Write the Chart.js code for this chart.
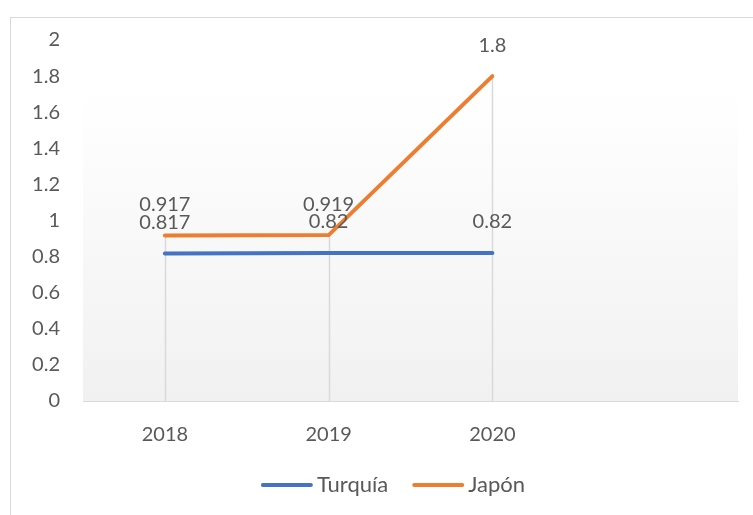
<!DOCTYPE html>
<html>
<head>
<meta charset="utf-8">
<script src="https://cdn.jsdelivr.net/npm/chart.js@4"></script>
<style>
  html, body { margin: 0; padding: 0; background: #fff; }
  #wrap { width: 753px; height: 515px; position: relative; }
</style>
</head>
<body>
<div id="wrap"><canvas id="chart"></canvas></div>
<script>
const years = ['2018', '2019', '2020', ''];
const turquia = [0.817, 0.82, 0.82];
const japon = [0.917, 0.919, 1.8];
const yTicks = [0, 0.2, 0.4, 0.6, 0.8, 1, 1.2, 1.4, 1.6, 1.8, 2];

const FONT = 'Lato, "Open Sans", sans-serif';
const TEXT = '#595959';

// marco exterior + fondo degradado del área de trazado
const backdrop = {
  id: 'backdrop',
  beforeDraw(chart) {
    const { ctx, chartArea } = chart;
    ctx.save();
    ctx.strokeStyle = '#d9d9d9';
    ctx.lineWidth = 1;
    ctx.strokeRect(10.5, 17.5, 900, 700);
    const top = chartArea.top + 48;
    const g = ctx.createLinearGradient(0, top, 0, chartArea.bottom);
    g.addColorStop(0, '#ffffff');
    g.addColorStop(1, '#f1f1f1');
    ctx.fillStyle = g;
    ctx.fillRect(chartArea.left, top, chartArea.right - chartArea.left, chartArea.bottom - top);
    ctx.restore();
  }
};

// líneas de caída desde el punto más alto de cada categoría
const dropLines = {
  id: 'dropLines',
  beforeDatasetsDraw(chart) {
    const { ctx, chartArea } = chart;
    const metas = chart.data.datasets.map((d, i) => chart.getDatasetMeta(i));
    ctx.save();
    ctx.strokeStyle = '#d9d9d9';
    ctx.lineWidth = 1.5;
    years.forEach((y, i) => {
      const pts = metas.map(m => m.data[i]).filter(p => p && !p.skip);
      if (!pts.length) return;
      const top = Math.min(...pts.map(p => p.y));
      const x = Math.round(pts[0].x) + 0.5;
      ctx.beginPath();
      ctx.moveTo(x, top);
      ctx.lineTo(x, chartArea.bottom);
      ctx.stroke();
    });
    ctx.restore();
  }
};

// etiquetas de datos encima de cada punto
const valueLabels = {
  id: 'valueLabels',
  afterDatasetsDraw(chart) {
    const { ctx } = chart;
    ctx.save();
    ctx.font = '20px ' + FONT;
    ctx.fillStyle = TEXT;
    ctx.textAlign = 'center';
    ctx.textBaseline = 'middle';
    chart.data.datasets.forEach((ds, i) => {
      chart.getDatasetMeta(i).data.forEach((p, j) => {
        if (ds.data[j] == null) return;
        ctx.fillText(String(ds.data[j]), p.x, p.y - 31);
      });
    });
    ctx.restore();
  }
};

// leyenda inferior (línea corta + texto pegado)
const bottomLegend = {
  id: 'bottomLegend',
  afterDraw(chart) {
    const { ctx } = chart;
    const lineW = 52, gap = 4, spacing = 24, y = 485;
    ctx.save();
    ctx.font = '22px ' + FONT;
    const items = chart.data.datasets.map(d => ({ d, w: ctx.measureText(d.label).width }));
    const total = items.reduce((s, it) => s + lineW + gap + it.w, 0) + spacing * (items.length - 1);
    let x = 393 - total / 2;
    ctx.textBaseline = 'middle';
    ctx.textAlign = 'left';
    items.forEach(it => {
      ctx.strokeStyle = it.d.borderColor;
      ctx.lineWidth = 4;
      ctx.lineCap = 'round';
      ctx.beginPath();
      ctx.moveTo(x + 2, y);
      ctx.lineTo(x + lineW - 2, y);
      ctx.stroke();
      ctx.fillStyle = TEXT;
      ctx.fillText(it.d.label, x + lineW + gap, y);
      x += lineW + gap + it.w + spacing;
    });
    ctx.restore();
  }
};

new Chart(document.getElementById('chart'), {
  type: 'line',
  data: {
    labels: years,
    datasets: [
      {
        label: 'Turquía',
        data: turquia,
        borderColor: '#4472c4',
        backgroundColor: '#4472c4',
        borderWidth: 4,
        borderCapStyle: 'round',
        pointRadius: 0,
        tension: 0
      },
      {
        label: 'Japón',
        data: japon,
        borderColor: '#ed7d31',
        backgroundColor: '#ed7d31',
        borderWidth: 4,
        borderCapStyle: 'round',
        pointRadius: 0,
        tension: 0
      }
    ]
  },
  options: {
    responsive: true,
    maintainAspectRatio: false,
    animation: false,
    layout: { padding: { left: 0, right: 15, top: 40, bottom: 0 } },
    plugins: {
      tooltip: { enabled: false },
      legend: { display: false }
    },
    scales: {
      x: {
        offset: true,
        grid: { display: false, drawTicks: false },
        border: { display: true, color: '#d9d9d9', width: 1 },
        ticks: { color: TEXT, font: { family: FONT, size: 20 }, padding: 22, maxRotation: 0 },
        afterFit(scale) { scale.height = 114; }
      },
      y: {
        min: 0,
        max: 2,
        afterBuildTicks(scale) { scale.ticks = yTicks.map(v => ({ value: v })); },
        grid: { display: false, drawTicks: false },
        border: { display: false },
        ticks: {
          color: TEXT,
          font: { family: FONT, size: 20 },
          padding: 23,
          callback: v => String(v)
        },
        afterFit(scale) { scale.width = 83; }
      }
    }
  },
  plugins: [backdrop, dropLines, valueLabels, bottomLegend]
});
</script>
</body>
</html>
